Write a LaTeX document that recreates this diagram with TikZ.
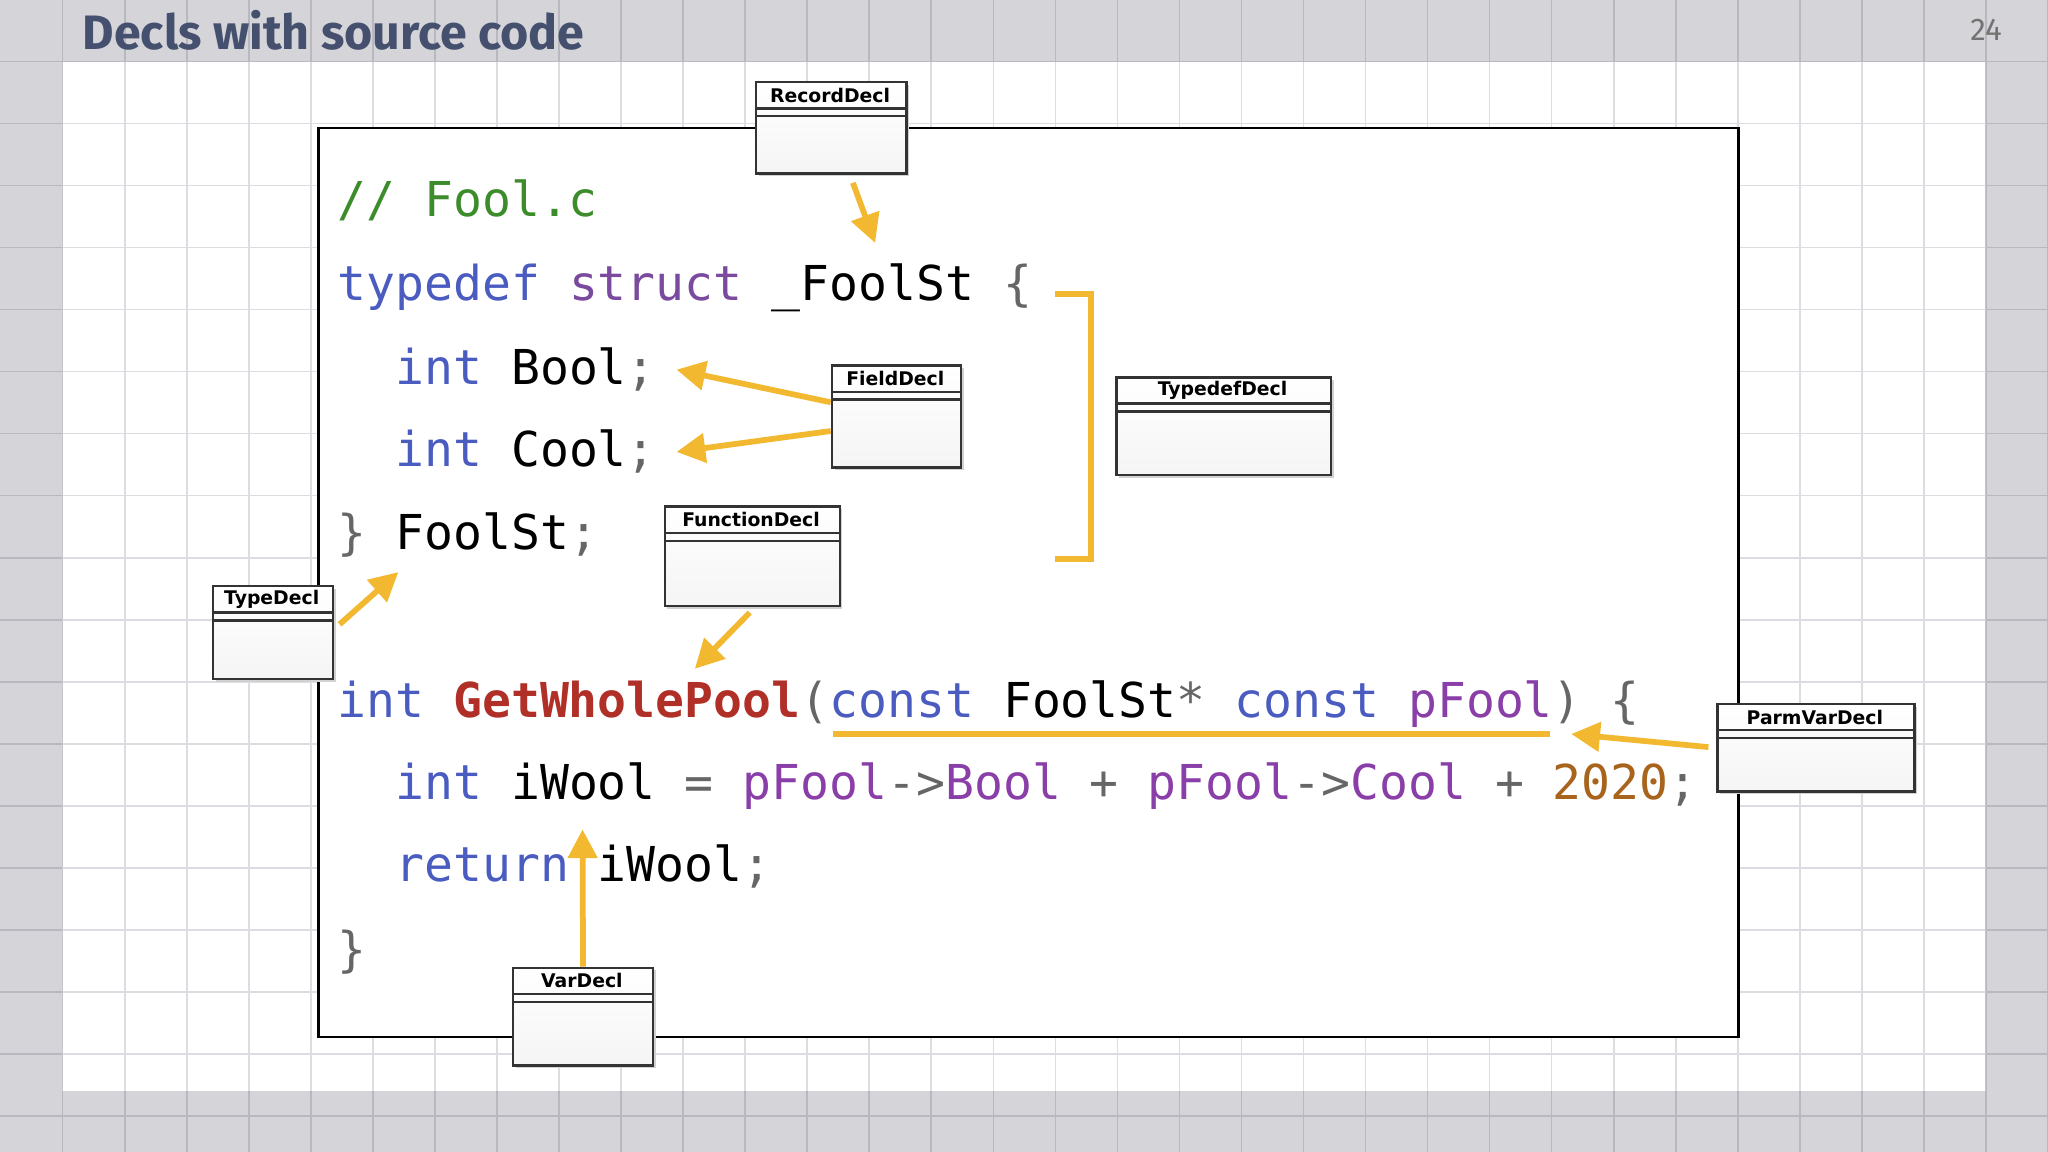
\documentclass[tikz,border=0pt]{standalone}
\usepackage{fontspec}
\setmainfont{DejaVu Sans}
\setmonofont{DejaVu Sans Mono}
\newfontfamily\titlefont{Fira Sans}
\usetikzlibrary{arrows.meta}
\definecolor{bgout}{HTML}{D4D4D9}
\definecolor{gridc}{HTML}{B8B8C0}
\definecolor{gridw}{HTML}{DCDCE2}
\definecolor{ttl}{HTML}{44506E}
\definecolor{cmt}{HTML}{3C8C2C}
\definecolor{kw}{HTML}{4A5CC0}
\definecolor{kw2}{HTML}{7A4A9E}
\definecolor{fn}{HTML}{B03028}
\definecolor{var}{HTML}{8A3EA8}
\definecolor{num}{HTML}{A8641C}
\definecolor{pun}{HTML}{666666}
\definecolor{arr}{HTML}{F2B930}
\newcommand{\K}[1]{\textcolor{kw}{#1}}
\newcommand{\KS}[1]{\textcolor{kw2}{#1}}
\newcommand{\V}[1]{\textcolor{var}{#1}}
\newcommand{\PU}[1]{\textcolor{pun}{#1}}
\begin{document}
\begin{tikzpicture}[x=0.5pt,y=-0.5pt,
  code/.style={anchor=base west,inner sep=0pt,font=\ttfamily\fontsize{18.4}{20}\selectfont},
  umlbox/.style={draw=black!80,line width=0.9pt,fill=white,inner sep=0pt},
  arrow/.style={draw=arr,line width=2.2pt,-{Triangle[length=11pt,width=11pt]}},
  hdr/.style={font=\bfseries\fontsize{7.2}{8}\selectfont,inner sep=0pt}]
\useasboundingbox (0,0) rectangle (1568,882);
\fill[bgout] (0,0) rectangle (1568,882);
\fill[white] (48,47) rectangle (1520,835);
\foreach \x in {48,95.5,...,1568} \draw[gridc,line width=0.6pt] (\x,0)--(\x,882);
\foreach \y in {0,47,94.5,...,882} \draw[gridc,line width=0.6pt] (0,\y)--(1568,\y);
\begin{scope}
\clip (48,47) rectangle (1520,835);
\foreach \x in {48,95.5,...,1568} \draw[gridw,line width=0.6pt] (\x,0)--(\x,882);
\foreach \y in {47,94.5,...,882} \draw[gridw,line width=0.6pt] (0,\y)--(1568,\y);
\end{scope}
\fill[bgout] (0,0) rectangle (1568,47);
\foreach \x in {48,95.5,...,1568} \draw[gridc,line width=0.6pt] (\x,0)--(\x,47);
\draw[gridc,line width=0.6pt] (0,47)--(1568,47);
\node[anchor=base west,inner sep=0pt,text=ttl,font=\titlefont\bfseries\fontsize{18.5}{22}\selectfont] (title) at (63,38) {Decls with source code};
\node[anchor=base east,inner sep=0pt,text=black!55,font=\titlefont\fontsize{12}{14}\selectfont] (page) at (1533,31) {24};
% code frame
\node[draw=black,line width=1pt,fill=white,minimum width=543.5pt,minimum height=348pt,anchor=north west,inner sep=0pt] (frame) at (243,97) {};
% code
\node[code] (l1) at (258,166) {\textcolor{cmt}{// Fool.c}};
\node[code] (l2) at (258,230) {\K{typedef} \KS{struct} \_FoolSt \PU{\{}};
\node[code] (l3) at (258,294) {\phantom{xx}\K{int} Bool\PU{;}};
\node[code] (l4) at (258,357) {\phantom{xx}\K{int} Cool\PU{;}};
\node[code] (l5) at (258,421) {\PU{\}} FoolSt\PU{;}};
\node[code] (l6) at (258,549) {\K{int} \textcolor{fn}{\bfseries GetWholePool}\PU{(}\K{const} FoolSt\PU{*} \K{const} \V{pFool}\PU{)} \PU{\{}};
\node[code] (l7) at (258,612) {\phantom{xx}\K{int} iWool \PU{=} \V{pFool}\PU{->}\V{Bool} \PU{+} \V{pFool}\PU{->}\V{Cool} \PU{+} \textcolor{num}{2020}\PU{;}};
\node[code] (l8) at (258,675) {\phantom{xx}\K{return} iWool\PU{;}};
\node[code] (l9) at (258,740) {\PU{\}}};
% arrows & marks
\coordinate (u1) at (638,562); \coordinate (u2) at (1187,562);
\draw[arr,line width=2.2pt] (u1)--(u2);
\coordinate (b1) at (808,225); \coordinate (b2) at (835,225);
\coordinate (b3) at (835,428); \coordinate (b4) at (808,428);
\draw[arr,line width=2.2pt] (b1)--(b2)--(b3)--(b4);
% boxes
\newcommand{\umlb}[6]{%
  \fill[black!18] (#2+3,#3+3) rectangle (#4+3,#5+3);
  \node[umlbox,minimum width={(#4-#2)*0.5pt},minimum height={(#5-#3)*0.5pt},anchor=north west,
    top color=white,bottom color=black!4] (#1) at (#2,#3) {};
  \draw[black!80,line width=0.9pt] (#2,#3+21)--(#4,#3+21) (#2,#3+27)--(#4,#3+27);
  \node[hdr] (#1t) at ({(#2+#4)/2},#3+11) {#6};}
\umlb{rec}{578}{62}{693}{132}{RecordDecl}
\umlb{fld}{636}{279}{735}{357}{FieldDecl}
\umlb{tdf}{854}{288}{1018}{363}{TypedefDecl}
\umlb{fun}{508}{387}{642}{463}{FunctionDecl}
\umlb{typ}{162}{448}{254}{519}{TypeDecl}
\umlb{prm}{1314}{538}{1465}{605}{ParmVarDecl}
\umlb{var}{392}{740}{499}{815}{VarDecl}
\coordinate (a1) at (670,186); \coordinate (a2) at (518,283); \coordinate (a3) at (518,346);
\coordinate (a4) at (305,438); \coordinate (a5) at (532,512); \coordinate (a6) at (1203,562);
\coordinate (a7) at (446,635);
\draw[arrow] (653,140) -- (a1);
\draw[arrow] (fld.west |- 0,308) -- (a2);
\draw[arrow] (fld.west |- 0,330) -- (a3);
\draw[arrow] (260,478) -- (a4);
\draw[arrow] (574,469) -- (a5);
\draw[arrow] (1308,572) -- (a6);
\draw[arrow] (var.north) -- (a7);
\end{tikzpicture}
\end{document}
